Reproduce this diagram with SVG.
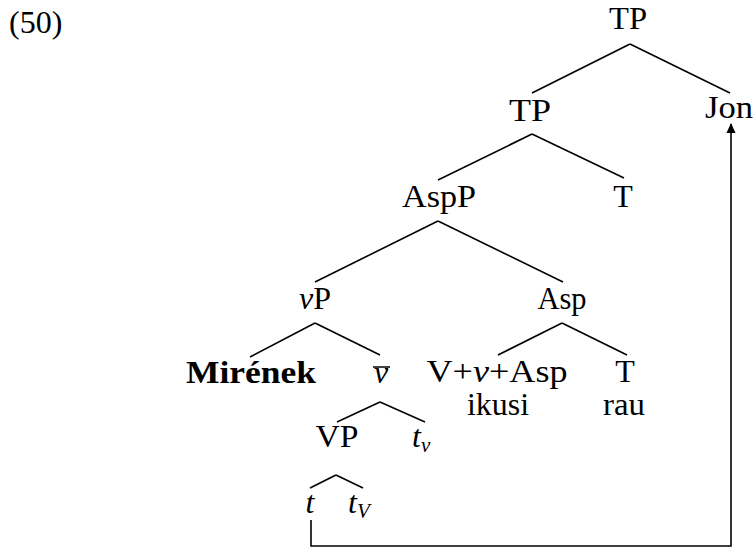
<svg xmlns="http://www.w3.org/2000/svg" width="756" height="548" viewBox="0 0 756 548">
<defs>
<style>
text{font-family:"Liberation Serif","DejaVu Serif",serif;font-size:32px;fill:#000}
.c{text-anchor:middle}
.i{font-style:italic}
.b{font-weight:bold}
.e line,.e path{stroke:#000;stroke-width:1.6;fill:none}
</style>
<marker id="ah" viewBox="0 0 10 10" refX="9" refY="5" markerWidth="12" markerHeight="10" orient="auto" markerUnits="userSpaceOnUse">
<path d="M0,0.5 L10,5 L0,9.5 Z" fill="#000"/>
</marker>
</defs>
<rect width="756" height="548" fill="#fff"/>
<text x="9" y="33">(50)</text>
<g id="n-tp-top"><text class="c" x="628" y="29" textLength="38" lengthAdjust="spacingAndGlyphs">TP</text></g>
<g id="n-tp2"><text class="c" x="530" y="121" textLength="42" lengthAdjust="spacingAndGlyphs">TP</text></g>
<g id="n-jon"><text class="c" x="729" y="118" textLength="48" lengthAdjust="spacingAndGlyphs">Jon</text></g>
<g id="n-aspp"><text class="c" x="439" y="207" textLength="74" lengthAdjust="spacingAndGlyphs">AspP</text></g>
<g id="n-t1"><text class="c" x="623" y="207">T</text></g>
<g id="n-vp"><text class="c" x="315" y="309"><tspan class="i">v</tspan>P</text></g>
<g id="n-asp"><text class="c" x="562" y="309" textLength="49" lengthAdjust="spacingAndGlyphs">Asp</text></g>
<g id="n-mirenek"><text class="c b" x="251" y="383" textLength="130" lengthAdjust="spacingAndGlyphs">Mirének</text></g>
<g id="n-vbar"><text class="c i" x="381" y="383">v</text><line x1="373" y1="367" x2="390" y2="367" stroke="#000" stroke-width="1.5"/></g>
<g id="n-vva"><text class="c" x="497" y="382" textLength="141" lengthAdjust="spacingAndGlyphs">V+<tspan class="i">v</tspan>+Asp</text><text class="c" x="498" y="415" textLength="62" lengthAdjust="spacingAndGlyphs">ikusi</text></g>
<g id="n-t2"><text class="c" x="625" y="382">T</text><text class="c" x="624" y="415" textLength="42" lengthAdjust="spacingAndGlyphs">rau</text></g>
<g id="n-VP"><text class="c" x="337" y="447" textLength="43" lengthAdjust="spacingAndGlyphs">VP</text></g>
<g id="n-tv"><text class="i" x="412" y="447">t<tspan font-size="21" dy="5">v</tspan></text></g>
<g id="n-t"><text class="c i" x="310" y="513">t</text></g>
<g id="n-tV"><text class="i" x="348" y="513">t<tspan font-size="21" dy="5">V</tspan></text></g>
<g id="connectors" class="e">
<line x1="630" y1="44" x2="532" y2="93"/>
<line x1="630" y1="44" x2="730" y2="93"/>
<line x1="532" y1="134" x2="438" y2="180"/>
<line x1="532" y1="134" x2="624" y2="178"/>
<line x1="438" y1="221" x2="315" y2="282"/>
<line x1="438" y1="221" x2="563" y2="282"/>
<line x1="315" y1="323" x2="250" y2="357"/>
<line x1="315" y1="323" x2="380" y2="355"/>
<line x1="562" y1="323" x2="498" y2="355"/>
<line x1="562" y1="323" x2="627" y2="355"/>
<line x1="380" y1="402" x2="337" y2="422"/>
<line x1="380" y1="402" x2="425" y2="422"/>
<line x1="336" y1="475" x2="310" y2="488"/>
<line x1="336" y1="475" x2="363" y2="488"/>
<path d="M311,520 V546 H731 V124" marker-end="url(#ah)"/>
</g>
</svg>
